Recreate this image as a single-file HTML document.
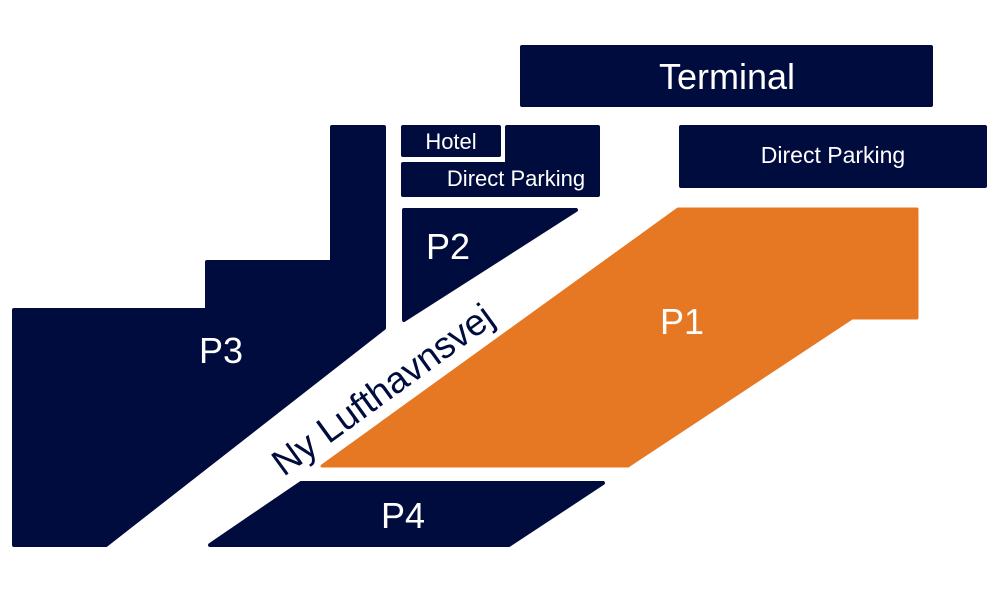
<!DOCTYPE html>
<html><head><meta charset="utf-8"><style>
html,body{margin:0;padding:0;background:#fff;}
svg{display:block}
text{font-family:"Liberation Sans",sans-serif;}
</style></head><body>
<svg width="1000" height="593" viewBox="0 0 1000 593" xmlns="http://www.w3.org/2000/svg">
<g fill="#000c3d" stroke="#000c3d" stroke-width="4" stroke-linejoin="round">
<rect x="522" y="47" width="409" height="58"/>
<rect x="681" y="127" width="304" height="59"/>
<rect x="403" y="127" width="96" height="28"/>
<path d="M507 127 H598 V195 H403 V164 H507 Z"/>
<path d="M404 210 H576 L404 320 Z"/>
<path d="M14 310 H207 V262 H332 V127 H384 V328 L106 545 H14 Z"/>
<path d="M210 545 L301 483 H603 L509 545 Z"/>
</g>
<path d="M322 466 L678 209 H917 V318 H852 L628 466 Z" fill="#e77823" stroke="#e77823" stroke-width="3" stroke-linejoin="round"/>
<g fill="#fff">
<text x="727" y="89" font-size="36" text-anchor="middle">Terminal</text>
<text x="833" y="163" font-size="23" text-anchor="middle">Direct Parking</text>
<text x="451" y="149" font-size="22" text-anchor="middle">Hotel</text>
<text x="516" y="186" font-size="22" text-anchor="middle">Direct Parking</text>
<text x="448" y="259" font-size="36" text-anchor="middle">P2</text>
<text x="221" y="363" font-size="36" text-anchor="middle">P3</text>
<text x="682" y="334" font-size="36" text-anchor="middle">P1</text>
<text x="403" y="528" font-size="36" text-anchor="middle">P4</text>
</g>
<text x="383" y="402" font-size="37" fill="#000c3d" text-anchor="middle" transform="rotate(-36 383 390)">Ny Lufthavnsvej</text>
</svg>
</body></html>
